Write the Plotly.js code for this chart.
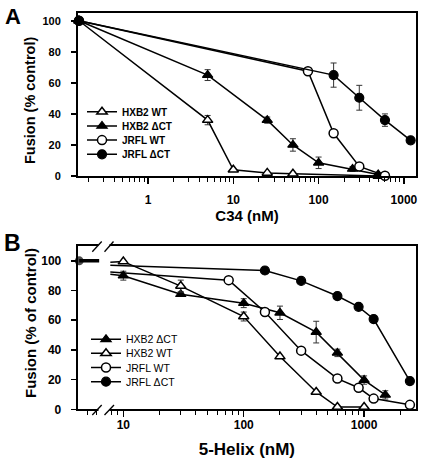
<!DOCTYPE html>
<html>
<head>
<meta charset="utf-8">
<script src="https://cdn.plot.ly/plotly-3.0.1.min.js"></script>
<style>html,body{margin:0;padding:0;background:#fff;}#chart{width:422px;height:466px;}</style>
</head>
<body>
<div id="chart"></div>
<script>
// ---------- Panel A data (C34, nM ; fusion % of control) ----------
const aSeriesNames = ['HXB2 WT', 'HXB2 ΔCT', 'JRFL WT', 'JRFL ΔCT'];
const aHxb2WtX  = [0.155, 5, 10, 25, 50, 500];
const aHxb2WtY  = [100, 36, 4, 2, 1.5, 0];
const aHxb2WtE  = [0, 3, 0, 0, 0, 0];
const aHxb2DctX = [0.155, 5, 25, 50, 100, 250, 500];
const aHxb2DctY = [100, 65, 36, 20, 8.5, 4.5, 1];
const aHxb2DctE = [0, 3.5, 2, 4, 3.7, 1.5, 0];
const aJrflWtX  = [0.155, 75, 150, 300, 600];
const aJrflWtY  = [100, 67.5, 27.5, 6.2, 0.2];
const aJrflDctX = [0.155, 150, 300, 600, 1200];
const aJrflDctY = [100, 65, 50.4, 36, 23];
const aJrflDctE = [0, 7.8, 8, 4, 0];
const aXTicks = [1, 10, 100, 1000];
const aYTicks = [0, 20, 40, 60, 80, 100];

// ---------- Panel B data (5-Helix, nM ; fusion % of control) ----------
const bSeriesNames = ['HXB2 ΔCT', 'HXB2 WT', 'JRFL WT', 'JRFL ΔCT'];
const bControlX = [4.3, 6.3];
const bControlY = [100, 100];
const bBreakX = 7.8;
const bStubY = [91, 99, 92.5, 97];   // line values at the axis break, per series
const bHxb2DctX = [10, 30, 100, 200, 400, 600, 1000, 1500];
const bHxb2DctY = [90, 77.5, 71.5, 65, 52, 38, 19.7, 9.7];
const bHxb2DctE = [3, 1.5, 3, 4.5, 7.3, 2.5, 2.8, 2.8];
const bHxb2WtX  = [10, 30, 100, 200, 400, 600, 1000];
const bHxb2WtY  = [99.5, 83, 62.5, 35.5, 11.7, 1.5, 1.5];
const bHxb2WtE  = [0, 4, 3, 0, 0, 0, 0];
const bJrflWtX  = [75, 150, 300, 600, 900, 1200, 2400];
const bJrflWtY  = [87, 65.5, 39.5, 20.7, 14.5, 7.2, 3];
const bJrflDctX = [150, 300, 600, 900, 1200, 2400];
const bJrflDctY = [93.5, 86.5, 76.3, 69, 60.8, 19];
const bXTicks = [10, 100, 1000];
const bYTicks = [0, 20, 40, 60, 80, 100];

// ---------- helpers ----------
const W = 422, H = 466;
const px = x => x / W;
const py = y => 1 - y / H;
const FONT = 'Liberation Sans, Arial, Helvetica, sans-serif';
const minorVals = (d0, d1) => { const v = []; for (let d = d0; d <= d1; d++) for (let k = 2; k <= 9; k++) v.push(k * Math.pow(10, d)); return v; };

const openMarker = (sym, size) => ({symbol: sym, size: size, color: 'white', line: {color: 'black', width: 1.5}});
const fillMarker = (sym, size) => ({symbol: sym, size: size, color: 'black', line: {color: 'black', width: 1.2}});
const errY = arr => ({type: 'data', array: arr, visible: true, color: '#333', thickness: 1, width: 3});

function series(x, y, e, name, marker, xa, ya, lg) {
  return {x: x, y: y, name: name, type: 'scatter', mode: 'lines+markers',
    xaxis: xa, yaxis: ya, legend: lg, cliponaxis: false,
    line: {color: 'black', width: 1.5}, marker: marker,
    error_y: e ? errY(e) : undefined};
}

const traces = [
  // Panel A
  series(aHxb2WtX, aHxb2WtY, aHxb2WtE, aSeriesNames[0], openMarker('triangle-up', 9), 'x', 'y', 'legend'),
  series(aHxb2DctX, aHxb2DctY, aHxb2DctE, aSeriesNames[1], fillMarker('triangle-up', 9), 'x', 'y', 'legend2'),
  series(aJrflWtX, aJrflWtY, null, aSeriesNames[2], openMarker('circle', 9), 'x', 'y', 'legend3'),
  series(aJrflDctX, aJrflDctY, aJrflDctE, aSeriesNames[3], fillMarker('circle', 9), 'x', 'y', 'legend4'),
];

// Panel B: stubs from the axis break to first points
const bFirst = [[bHxb2DctX, bHxb2DctY], [bHxb2WtX, bHxb2WtY], [bJrflWtX, bJrflWtY], [bJrflDctX, bJrflDctY]];
bFirst.forEach((s, i) => {
  traces.push({x: [bBreakX, s[0][0]], y: [bStubY[i], s[1][0]], type: 'scatter', mode: 'lines',
    xaxis: 'x2', yaxis: 'y2', showlegend: false, hoverinfo: 'skip',
    line: {color: 'black', width: 1.5}});
});
// control point
traces.push({x: bControlX, y: bControlY, type: 'scatter', mode: 'lines+markers', xaxis: 'x2', yaxis: 'y2',
  showlegend: false, cliponaxis: false, line: {color: 'black', width: 3.5},
  marker: {symbol: 'circle', size: [9, 0], color: 'black', line: {width: 0}}});
traces.push(
  series(bHxb2DctX, bHxb2DctY, bHxb2DctE, bSeriesNames[0], fillMarker('triangle-up', 9), 'x2', 'y2', 'legend5'),
  series(bHxb2WtX, bHxb2WtY, bHxb2WtE, bSeriesNames[1], openMarker('triangle-up', 9), 'x2', 'y2', 'legend6'),
  series(bJrflWtX, bJrflWtY, null, bSeriesNames[2], openMarker('circle', 9), 'x2', 'y2', 'legend7'),
  series(bJrflDctX, bJrflDctY, null, bSeriesNames[3], fillMarker('circle', 9), 'x2', 'y2', 'legend8')
);

const baseAxis = {showline: true, linecolor: 'black', linewidth: 2, mirror: true, showgrid: false,
  zeroline: false, ticks: 'outside', tickcolor: 'black', tickwidth: 1.5, automargin: false};

const legendA = yc => ({x: px(82), y: py(yc), xanchor: 'left', yanchor: 'middle', bgcolor: 'rgba(0,0,0,0)',
  font: {size: 10, weight: 'bold'}, itemwidth: 30});
const legendB = yc => ({x: px(86), y: py(yc), xanchor: 'left', yanchor: 'middle', bgcolor: 'rgba(0,0,0,0)',
  font: {size: 10.5}, itemwidth: 30});

const layout = {
  width: W, height: H, margin: {l: 0, r: 0, t: 0, b: 0}, paper_bgcolor: 'white', plot_bgcolor: 'white',
  font: {family: FONT, color: 'black'},
  showlegend: true,
  xaxis: Object.assign({}, baseAxis, {type: 'log', domain: [px(78), px(416)], anchor: 'y',
    range: [Math.log10(0.151), Math.log10(1387)], tickvals: aXTicks, ticktext: aXTicks.map(String), ticklen: 6,
    tickfont: {size: 12, weight: 'bold'}, ticklabelstandoff: 6,
    minor: {tickvals: minorVals(-1, 3), ticks: 'outside', ticklen: 3.5, tickwidth: 1, tickcolor: 'black'},
    title: {text: 'C34 (nM)', font: {size: 15, weight: 'bold'}, standoff: 3}}),
  yaxis: Object.assign({}, baseAxis, {domain: [py(176), py(13)], anchor: 'x', range: [0, 105],
    tickvals: aYTicks, ticklen: 5, tickfont: {size: 11, weight: 'bold'}, ticklabelstandoff: 8}),
  xaxis2: Object.assign({}, baseAxis, {type: 'log', domain: [px(77.7), px(416)], anchor: 'y2',
    range: [0.621, 3.431], tickvals: bXTicks, ticktext: bXTicks.map(String), ticklen: 6,
    tickfont: {size: 12, weight: 'bold'}, ticklabelstandoff: -3,
    minor: {tickvals: minorVals(0, 3), ticks: 'outside', ticklen: 3.5, tickwidth: 1, tickcolor: 'black'},
    title: {text: '5-Helix (nM)', font: {size: 17, weight: 'bold'}, standoff: 12}}),
  yaxis2: Object.assign({}, baseAxis, {domain: [py(409.3), py(246)], anchor: 'x2', range: [0, 110],
    tickvals: bYTicks, ticklen: 5, tickfont: {size: 12, weight: 'bold'}, ticklabelstandoff: 7}),
  legend: legendA(111.7), legend2: legendA(125.9), legend3: legendA(140.1), legend4: legendA(154.3),
  legend5: legendB(339.3), legend6: legendB(353.3), legend7: legendB(367.5), legend8: legendB(381.7),
  annotations: [
    {text: 'A', xref: 'paper', yref: 'paper', x: px(3), y: py(2), xanchor: 'left', yanchor: 'top',
      showarrow: false, font: {size: 22, weight: 'bold'}},
    {text: 'B', xref: 'paper', yref: 'paper', x: px(2), y: py(228), xanchor: 'left', yanchor: 'top',
      showarrow: false, font: {size: 23, weight: 'bold'}},
    {text: 'Fusion (% control)', xref: 'paper', yref: 'paper', x: px(30), y: py(101), xanchor: 'center', yanchor: 'middle',
      textangle: -90, showarrow: false, font: {size: 14.5, weight: 'bold'}},
    {text: 'Fusion (% of control)', xref: 'paper', yref: 'paper', x: px(30), y: py(323), xanchor: 'center', yanchor: 'middle',
      textangle: -90, showarrow: false, font: {size: 15, weight: 'bold'}}
  ],
  shapes: [
    // axis break gaps
    {type: 'rect', xref: 'paper', yref: 'paper', x0: px(98.5), x1: px(109.5), y0: py(249), y1: py(243),
      fillcolor: 'white', line: {width: 0}, layer: 'above'},
    {type: 'rect', xref: 'paper', yref: 'paper', x0: px(98.5), x1: px(109.5), y0: py(417), y1: py(407.5),
      fillcolor: 'white', line: {width: 0}, layer: 'above'},
    // break slashes
    {type: 'line', xref: 'paper', yref: 'paper', x0: px(92.3), y0: py(251.7), x1: px(101.7), y1: py(241.5), line: {color: 'black', width: 1.3}},
    {type: 'line', xref: 'paper', yref: 'paper', x0: px(104.5), y0: py(251.7), x1: px(113.5), y1: py(241.5), line: {color: 'black', width: 1.3}},
    {type: 'line', xref: 'paper', yref: 'paper', x0: px(92.3), y0: py(415), x1: px(101.7), y1: py(405), line: {color: 'black', width: 1.3}},
    {type: 'line', xref: 'paper', yref: 'paper', x0: px(104.5), y0: py(415), x1: px(114), y1: py(405), line: {color: 'black', width: 1.3}}
  ]
};

Plotly.newPlot('chart', traces, layout, {displayModeBar: false, staticPlot: true});
</script>
</body>
</html>
